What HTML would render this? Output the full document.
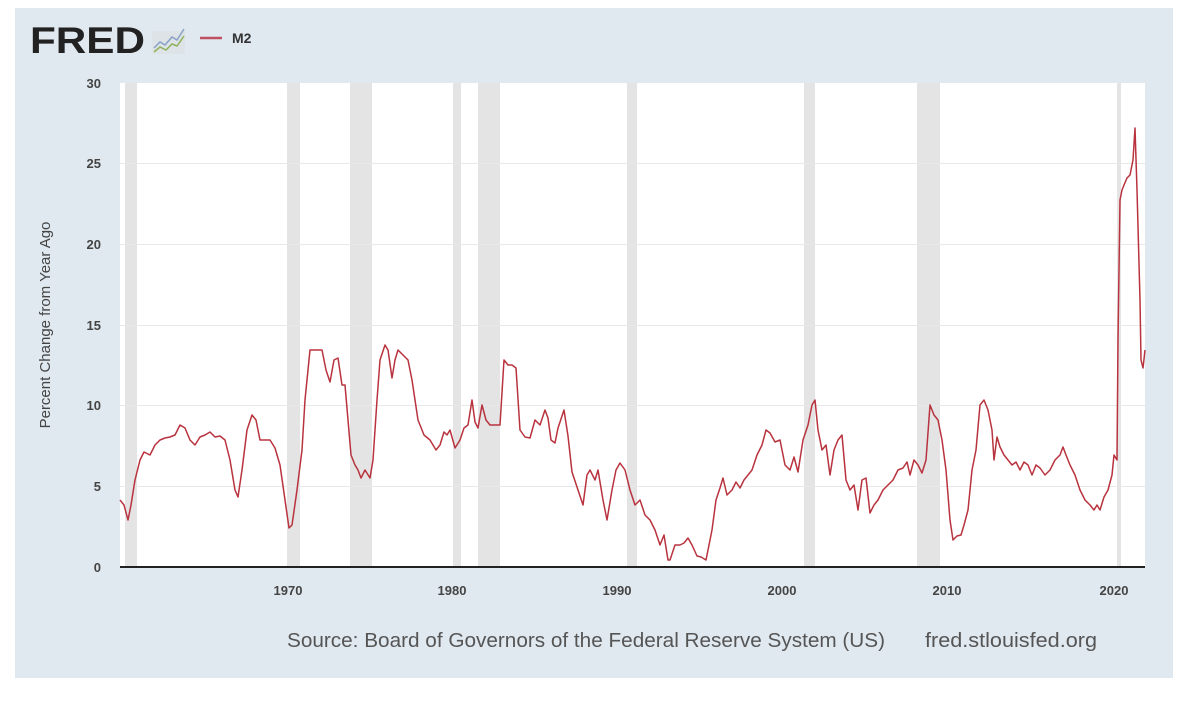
<!DOCTYPE html>
<html><head><meta charset="utf-8"><style>
html,body{margin:0;padding:0;background:#fff;width:1200px;height:703px;overflow:hidden}
svg{display:block}
</style></head><body>
<svg width="1200" height="703" viewBox="0 0 1200 703" xmlns="http://www.w3.org/2000/svg" font-family="Liberation Sans, Arial, sans-serif">
<rect x="0" y="0" width="1200" height="703" fill="#fff"/>
<rect x="15" y="8" width="1158" height="670" fill="#e1e9f0"/>
<rect x="120" y="83" width="1025" height="484" fill="#fff"/>
<g fill="#e4e4e4">
<rect x="125" y="83" width="12" height="484"/>
<rect x="287" y="83" width="13" height="484"/>
<rect x="350" y="83" width="22" height="484"/>
<rect x="453" y="83" width="8" height="484"/>
<rect x="478" y="83" width="22" height="484"/>
<rect x="627" y="83" width="10" height="484"/>
<rect x="804" y="83" width="11" height="484"/>
<rect x="917" y="83" width="23" height="484"/>
<rect x="1117" y="83" width="4" height="484"/>
</g>
<g stroke="#e8e8e8" stroke-width="1">
<line x1="120" x2="1145" y1="486.5" y2="486.5"/>
<line x1="120" x2="1145" y1="405.5" y2="405.5"/>
<line x1="120" x2="1145" y1="325.5" y2="325.5"/>
<line x1="120" x2="1145" y1="244.5" y2="244.5"/>
<line x1="120" x2="1145" y1="163.5" y2="163.5"/>
</g>
<line x1="120" x2="1145" y1="567" y2="567" stroke="#222" stroke-width="2"/>
<g font-size="13" fill="#444" font-weight="bold" text-anchor="end">
<text x="101" y="572">0</text>
<text x="101" y="491">5</text>
<text x="101" y="410">10</text>
<text x="101" y="330">15</text>
<text x="101" y="249">20</text>
<text x="101" y="168">25</text>
<text x="101" y="88">30</text>
</g>
<g font-size="13" fill="#444" font-weight="bold" text-anchor="middle">
<text x="288" y="595">1970</text>
<text x="452" y="595">1980</text>
<text x="617" y="595">1990</text>
<text x="782" y="595">2000</text>
<text x="947" y="595">2010</text>
<text x="1114" y="595">2020</text>
</g>
<text transform="translate(50,325) rotate(-90)" font-size="15" fill="#444" text-anchor="middle">Percent Change from Year Ago</text>
<text x="287" y="647" font-size="20" fill="#555" textLength="598" lengthAdjust="spacingAndGlyphs">Source: Board of Governors of the Federal Reserve System (US)</text>
<text x="925" y="647" font-size="20" fill="#555" textLength="172" lengthAdjust="spacingAndGlyphs">fred.stlouisfed.org</text>
<text x="30" y="53" font-size="37" font-weight="bold" fill="#222" textLength="115" lengthAdjust="spacingAndGlyphs">FRED</text>
<rect x="152" y="31" width="33" height="23" fill="#dde3e6"/>
<polyline points="154,48 160,42 165,45 172,37 177,40 184,29" fill="none" stroke="#8aa2c8" stroke-width="1.5"/>
<polyline points="154,52 160,47 166,50 172,44 177,46 184,36" fill="none" stroke="#8fb05a" stroke-width="1.5"/>
<line x1="200" y1="38" x2="222" y2="38" stroke="#c05060" stroke-width="2.5"/>
<text x="232" y="43" font-size="14" font-weight="bold" fill="#333">M2</text>
<polyline fill="none" stroke="#b8333e" stroke-width="1.5" stroke-linejoin="round" points="120,500 124,505 128,520 131,505 135,480 140,460 144,452 150,455 155,445 160,440 165,438 170,437 175,435 180,425 185,428 190,440 195,445 200,437 205,435 210,432 215,437 220,436 225,440 230,460 235,490 238,497 242,470 247,430 252,415 256,420 260,440 265,440 270,440 275,448 280,465 285,500 289,528 292,525 297,490 302,450 305,400 310,350 315,350 322,350 326,370 330,382 334,360 338,358 342,385 345,385 348,420 351,455 355,465 358,470 361,478 365,470 370,478 373,460 377,400 380,360 385,345 388,350 392,378 395,360 398,350 403,355 408,360 412,380 418,420 424,435 430,440 436,450 440,445 444,432 447,435 450,430 455,448 460,440 464,428 468,425 472,400 475,422 478,428 482,405 486,420 490,425 495,425 500,425 504,360 508,365 512,365 516,368 520,430 525,437 530,438 535,420 540,425 545,410 548,418 551,440 555,443 558,428 564,410 568,436 572,472 578,490 583,505 587,475 590,470 595,480 598,470 603,500 607,520 612,490 616,470 620,463 625,470 630,490 635,505 640,500 645,515 650,520 655,530 660,545 664,535 668,560 670,560 675,545 680,545 684,543 688,538 692,545 697,556 701,557 706,560 712,530 716,500 720,488 723,478 727,495 732,490 736,482 740,488 744,480 748,475 752,470 757,455 762,445 766,430 770,433 775,442 780,440 785,465 790,470 794,457 798,472 803,440 808,425 812,405 815,400 818,430 822,450 826,445 830,475 834,450 838,440 842,435 846,480 850,490 854,485 858,510 862,480 866,478 870,513 874,505 878,500 883,490 888,485 893,480 898,470 903,468 907,462 910,475 914,460 918,465 922,473 926,460 930,405 934,415 938,420 942,440 946,470 950,520 953,540 957,536 961,535 964,525 968,510 972,470 976,450 980,405 984,400 988,410 992,430 994,460 997,437 1000,447 1004,455 1008,460 1012,465 1016,462 1020,470 1024,462 1028,465 1032,475 1036,465 1040,468 1045,475 1050,470 1055,460 1060,455 1063,447 1066,455 1070,465 1075,475 1080,490 1085,500 1090,505 1094,510 1097,505 1100,510 1104,497 1108,490 1112,475 1114,455 1117,460 1118,340 1120,200 1122,190 1124,185 1127,178 1130,175 1133,160 1135,128 1137,190 1140,300 1141,360 1143,368 1145,350"/>
</svg>
</body></html>
